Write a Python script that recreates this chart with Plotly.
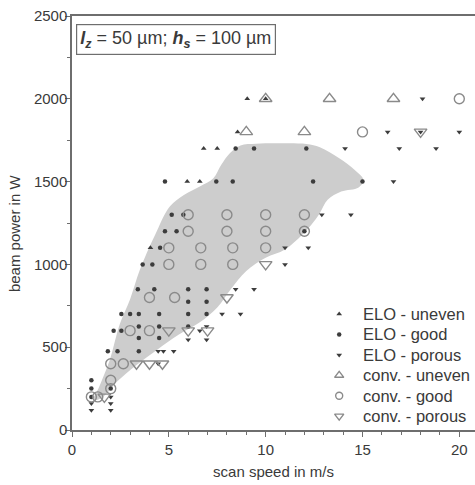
import plotly.graph_objects as go

# Process window (shaded region), outline in (scan speed, beam power)
window_speed = [1.1, 1.4, 1.95, 2.47, 3.0, 3.5, 4.3, 5.05, 5.8, 6.6, 7.3, 7.7, 8.15, 8.7, 9.5,
                10.5, 12.1, 12.8, 13.8, 14.6, 15.05, 14.8, 13.9, 13.2, 12.8, 12.5, 11.9, 11.0,
                10.0, 9.0, 8.2, 7.5, 6.6, 5.5, 4.4, 3.3, 2.3, 1.6]
window_power = [180, 260, 423, 640, 790, 966, 1180, 1349, 1420, 1470, 1520, 1600, 1671, 1718, 1728,
                1731, 1727, 1707, 1641, 1570, 1510, 1465, 1440, 1390, 1310, 1260, 1180, 1090,
                1040, 960, 850, 740, 650, 575, 485, 390, 290, 200]

# ELO - uneven
elo_uneven_speed = [9.05, 10.0, 8.55, 6.8, 7.5, 5.95, 6.6, 4.05]
elo_uneven_power = [2000, 2000, 1800, 1700, 1700, 1500, 1500, 1100]

# ELO - good
elo_good_speed = [8.45, 9.4, 12.1, 4.8, 7.45, 8.3, 12.45, 15.0, 5.15, 5.75, 4.8, 5.4, 12.0, 4.55,
                  3.65, 4.15, 3.4, 4.25, 6.0, 6.95, 6.0, 6.95, 2.55, 3.0, 3.45, 4.5, 6.0, 6.95,
                  2.15, 2.55, 3.45, 4.5, 6.0, 3.45, 4.5, 1.85, 2.35, 3.45, 1.0, 1.0, 1.0, 2.0]
elo_good_power = [1700, 1700, 1700, 1500, 1500, 1500, 1500, 1500, 1300, 1300, 1200, 1200, 1200, 1100,
                  1000, 1000, 850, 850, 850, 850, 775, 775, 700, 700, 700, 700, 700, 700,
                  600, 600, 625, 625, 625, 555, 555, 475, 475, 475, 300, 250, 200, 250]

# ELO - porous
elo_porous_speed = [18.1, 16.3, 18.0, 20.0, 14.1, 16.9, 18.8, 16.6, 12.9, 14.4, 11.0, 12.2, 11.0,
                    8.45, 9.4, 7.75, 8.7, 6.6, 6.95, 6.0, 6.95, 4.45, 4.72, 5.25, 4.45,
                    1.0, 1.0, 2.0, 2.0, 2.0]
elo_porous_power = [2000, 1800, 1800, 1800, 1700, 1700, 1700, 1500, 1300, 1300, 1100, 1100, 1000,
                    850, 850, 700, 700, 600, 625, 545, 545, 475, 475, 475, 400,
                    160, 120, 200, 160, 120]

# conv. - uneven
conv_uneven_speed = [10.0, 13.3, 16.6, 9.0, 12.0]
conv_uneven_power = [2000, 2000, 2000, 1800, 1800]

# conv. - good
conv_good_speed = [20.0, 15.0, 6.0, 8.0, 10.0, 12.0, 6.0, 8.0, 10.0, 12.0, 5.0, 6.65, 8.3, 10.0,
                   5.0, 6.65, 8.3, 4.0, 5.3, 3.0, 4.0, 2.0, 2.65, 2.0, 2.0, 1.0, 1.33]
conv_good_power = [2000, 1800, 1300, 1300, 1300, 1300, 1200, 1200, 1200, 1200, 1100, 1100, 1100, 1100,
                   1000, 1000, 1000, 800, 800, 600, 600, 400, 400, 300, 250, 200, 200]

# conv. - porous
conv_porous_speed = [18.0, 10.0, 8.0, 5.0, 6.0, 7.0, 3.33, 4.0, 4.67, 1.67]
conv_porous_power = [1800, 1000, 800, 600, 600, 600, 400, 400, 400, 200]

x_ticks = [0, 5, 10, 15, 20]
y_ticks = [0, 500, 1000, 1500, 2000, 2500]

ELO_COLOR = "#3c3c3c"
CONV_COLOR = "#8a8a8a"
AXIS_COLOR = "#6e6e6e"
TEXT_COLOR = "#3a3a3a"

fig = go.Figure()

fig.add_trace(go.Scatter(
    x=window_speed + [window_speed[0]], y=window_power + [window_power[0]],
    mode="lines", fill="toself", fillcolor="#cdcdcd",
    line=dict(color="rgba(0,0,0,0)", width=0, shape="spline", smoothing=1.0),
    hoverinfo="skip", showlegend=False,
))

def elo_marker(symbol, size):
    return dict(symbol=symbol, size=size, color=ELO_COLOR, line=dict(width=0))

def conv_marker(symbol, size):
    return dict(symbol=symbol, size=size, color=CONV_COLOR, line=dict(width=1.4, color=CONV_COLOR))

# (name, speeds, powers, marker on plot, marker in key)
series = [
    ("ELO - uneven", elo_uneven_speed, elo_uneven_power,
     elo_marker("triangle-up", 5), elo_marker("triangle-up", 5)),
    ("ELO - good", elo_good_speed, elo_good_power,
     elo_marker("circle", 4.5), elo_marker("circle", 4.5)),
    ("ELO - porous", elo_porous_speed, elo_porous_power,
     elo_marker("triangle-down", 5), elo_marker("triangle-down", 5)),
    ("conv. - uneven", conv_uneven_speed, conv_uneven_power,
     conv_marker("triangle-up-open", 11), conv_marker("triangle-up-open", 8)),
    ("conv. - good", conv_good_speed, conv_good_power,
     conv_marker("circle-open", 10), conv_marker("circle-open", 7)),
    ("conv. - porous", conv_porous_speed, conv_porous_power,
     conv_marker("triangle-down-open", 11), conv_marker("triangle-down-open", 8)),
]

for name, xs, ys, marker, _ in series:
    fig.add_trace(go.Scatter(x=xs, y=ys, mode="markers", name=name, marker=marker,
                             showlegend=False))

# Key in the lower right, laid out on an overlay axis spanning [0, 1] x [0, 1]
KEY_SYMBOL_X = 0.663
KEY_TEXT_X = 0.718
KEY_TOP_Y = 0.280
KEY_ROW_STEP = 0.0493
for i, (name, _, _, _, key_marker) in enumerate(series):
    row_y = KEY_TOP_Y - i * KEY_ROW_STEP
    fig.add_trace(go.Scatter(x=[KEY_SYMBOL_X], y=[row_y], mode="markers", marker=key_marker,
                             xaxis="x2", yaxis="y2", showlegend=False, hoverinfo="skip",
                             cliponaxis=False))
    fig.add_annotation(xref="x2", yref="y2", x=KEY_TEXT_X, y=row_y, text=name,
                       xanchor="left", yanchor="middle", showarrow=False,
                       font=dict(size=16.5, color=TEXT_COLOR))

font_family = "Liberation Sans, Arial, sans-serif"

fig.update_layout(
    width=475, height=485,
    margin=dict(l=72, r=0, t=16, b=55),
    paper_bgcolor="white", plot_bgcolor="white",
    font=dict(family=font_family, size=15, color=TEXT_COLOR),
    showlegend=False,
    xaxis=dict(
        range=[0, 20.81], tickvals=x_ticks, ticks="outside", ticklen=5, tickwidth=1.2,
        tickcolor=AXIS_COLOR, showline=True, linecolor=AXIS_COLOR, linewidth=1.5, mirror=True,
        showgrid=False, zeroline=False,
        minor=dict(dtick=1, ticks="outside", ticklen=3, tickcolor=AXIS_COLOR, showgrid=False),
        title=dict(text="scan speed in m/s", font=dict(size=15), standoff=10),
        tickfont=dict(size=15),
    ),
    yaxis=dict(
        range=[0, 2500], tickvals=y_ticks, ticks="outside", ticklen=5, tickwidth=1.2,
        tickcolor=AXIS_COLOR, showline=True, linecolor=AXIS_COLOR, linewidth=1.5, mirror=False,
        showgrid=False, zeroline=False, ticklabelstandoff=-5,
        minor=dict(dtick=250, ticks="outside", ticklen=3, tickcolor=AXIS_COLOR, showgrid=False),
        tickfont=dict(size=15),
    ),
    xaxis2=dict(overlaying="x", range=[0, 1], visible=False, anchor="y"),
    yaxis2=dict(overlaying="y", range=[0, 1], visible=False, anchor="x"),
)

# y-axis title
fig.add_annotation(
    xref="paper", yref="paper", x=-0.142, y=0.475, xanchor="center", yanchor="middle",
    text="beam power in W", textangle=-90, showarrow=False,
    font=dict(size=15, color=TEXT_COLOR),
)

fig.add_annotation(
    xref="paper", yref="paper", x=0.01, y=0.98, xanchor="left", yanchor="top",
    text="<b><i>l</i></b><sub><b><i>z</i></b></sub> = 50 µm; "
         "<b><i>h</i></b><sub><b><i>s</i></b></sub> = 100 µm",
    showarrow=False, font=dict(size=18, color=TEXT_COLOR),
    bordercolor=AXIS_COLOR, borderwidth=1.2, borderpad=3, bgcolor="white", align="left",
)

fig.write_html("out.html")
